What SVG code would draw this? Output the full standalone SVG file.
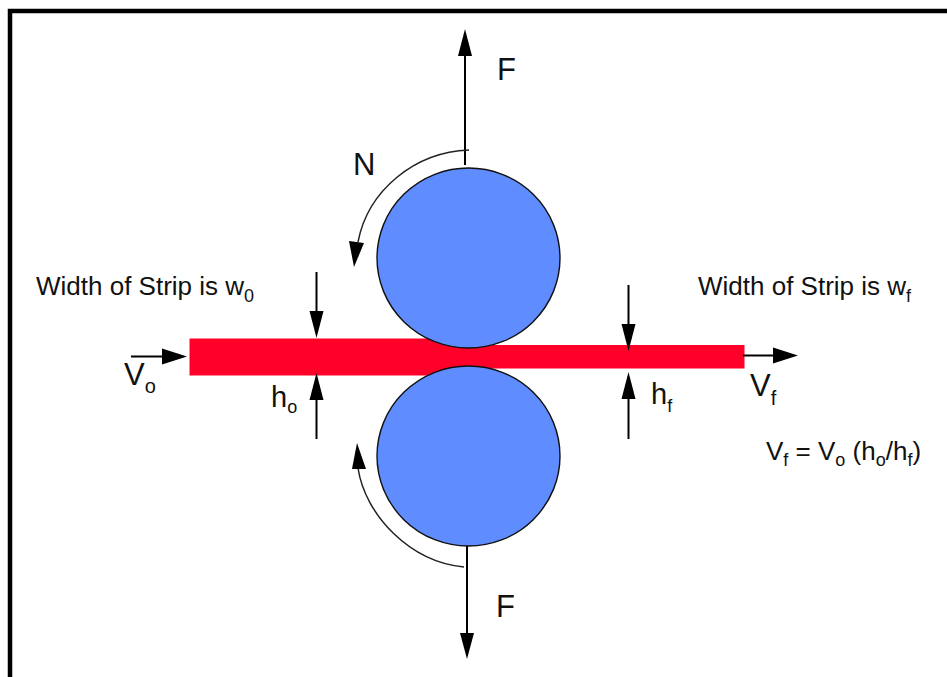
<svg xmlns="http://www.w3.org/2000/svg" width="947" height="677" viewBox="0 0 947 677">
<style>
text{font-family:"Liberation Sans",Arial,sans-serif;fill:#111}
.b{font-size:31px}.m{font-size:26px}.h{font-size:29px}.s{font-size:18px}.o{font-size:20px}
.roll{fill:#5f8cff;stroke:#111;stroke-width:1.4}
.ln{stroke:#000;stroke-width:2;fill:none}
.arc{stroke:#222;stroke-width:1.5;fill:none}
.hd{fill:#000}
</style>
<rect width="947" height="677" fill="#fff"/>
<path d="M10 677V11H947" fill="none" stroke="#000" stroke-width="4.500"/>
<g id="strip"><path d="M189.500 338.500H468V345H744.500V368.500H468V375.500H189.500Z" fill="#ff0028"/></g>
<g id="roll-top"><ellipse class="roll" cx="468.500" cy="258" rx="91.500" ry="90"/></g>
<g id="roll-bottom"><ellipse class="roll" cx="468.500" cy="456" rx="91.500" ry="90"/></g>
<g id="connectors">
<path class="ln" d="M465 165V55"/><path class="hd" d="M465 29l-7 27h14z"/>
<path class="ln" d="M467 546V635"/><path class="hd" d="M467 659l-7 -26h14z"/>
<path class="arc" d="M469 150C415 152 368 190 358 242"/><path class="hd" d="M354 267L349 241L364 243z"/>
<path class="arc" d="M464 567C410 562 365 515 358 468"/><path class="hd" d="M357 443L352 469H366z"/>
<path class="ln" d="M316.500 272V315"/><path class="hd" d="M316.500 338l-7 -27h14z"/>
<path class="ln" d="M316.500 439V395"/><path class="hd" d="M316.500 373l-7 27h14z"/>
<path class="ln" d="M628.500 285V325"/><path class="hd" d="M628.500 351l-7 -27h14z"/>
<path class="ln" d="M628.500 439V395"/><path class="hd" d="M628.500 372l-7 27h14z"/>
<path class="ln" d="M131 356.500H165"/><path class="hd" d="M187 356.500l-25 -8v16z"/>
<path class="ln" d="M743 355.500H780"/><path class="hd" d="M798 355.500l-25 -8v16z"/>
</g>
<g id="labels">
<text class="b" x="497" y="80">F</text>
<text class="b" x="496" y="617">F</text>
<text class="b" x="353" y="175">N</text>
<text class="m" x="36" y="294.500">Width of Strip is w<tspan class="s" dy="7">0</tspan></text>
<text class="m" x="698" y="294.500">Width of Strip is w<tspan class="s" dy="7">f</tspan></text>
<text class="b" x="124" y="385">V<tspan class="o" dy="8">o</tspan></text>
<text class="b" x="750" y="396">V<tspan class="o" dy="9">f</tspan></text>
<text class="h" x="271" y="407">h<tspan class="s" dy="6">o</tspan></text>
<text class="h" x="651" y="404">h<tspan class="s" dy="8">f</tspan></text>
<text class="m" x="766" y="460">V<tspan class="s" dy="6">f</tspan><tspan dy="-6"> = V</tspan><tspan class="s" dy="6">o</tspan><tspan dy="-6"> (h</tspan><tspan class="s" dy="6">o</tspan><tspan dy="-6">/h</tspan><tspan class="s" dy="6">f</tspan><tspan dy="-6">)</tspan></text>
</g>
</svg>
